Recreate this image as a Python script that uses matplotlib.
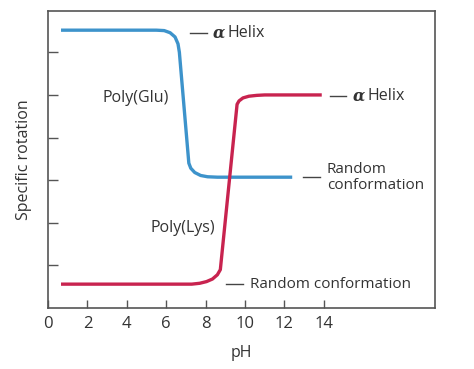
import matplotlib
matplotlib.use("Agg")
import matplotlib.pyplot as plt

plt.rcParams['font.family'] = ['Open Sans', 'DejaVu Sans']

# Poly(Glu) curve (pH, specific rotation units)
glu_ph = [0.66, 5.5, 5.9, 6.2, 6.45, 6.6, 6.67, 7.15, 7.25, 7.45, 7.75, 8.1, 8.6, 12.4]
glu_rot = [6.52, 6.52, 6.51, 6.46, 6.36, 6.2, 6.0, 3.4, 3.28, 3.18, 3.11, 3.08, 3.07, 3.07]

# Poly(Lys) curve
lys_ph = [0.66, 7.3, 7.7, 8.05, 8.35, 8.6, 8.75, 9.6, 9.7, 9.9, 10.2, 10.6, 11.0, 13.9]
lys_rot = [0.56, 0.56, 0.58, 0.62, 0.68, 0.78, 0.9, 4.78, 4.86, 4.93, 4.97, 4.99, 5.0, 5.0]

x_ticks = [0, 2, 4, 6, 8, 10, 12, 14]
y_ticks = [1, 2, 3, 4, 5, 6]

blue = '#3d93cb'
red = '#c8234f'
txt = '#333333'
spine = '#555555'
FS = 11.5
FS2 = 11

fig = plt.figure(figsize=(4.74, 3.69), dpi=100)
ax = fig.add_axes([0.1013, 0.1653, 0.8164, 0.8049])

ax.plot(glu_ph, glu_rot, color=blue, lw=2.4, solid_capstyle='butt', solid_joinstyle='round')
ax.plot(lys_ph, lys_rot, color=red, lw=2.4, solid_capstyle='butt', solid_joinstyle='round')

ax.set_xlim(0, 19.65)
ax.set_ylim(0, 6.97)
ax.set_xticks(x_ticks)
ax.set_xticklabels([str(v) for v in x_ticks], fontsize=12, color=txt)
ax.set_yticks(y_ticks)
ax.set_yticklabels([])
ax.tick_params(axis='x', direction='in', length=6, width=1, color=spine, pad=6)
ax.tick_params(axis='y', direction='in', length=7, width=1, color=spine)
for s in ax.spines.values():
    s.set_color(spine)
    s.set_linewidth(1.2)

ax.set_xlabel('pH', fontsize=FS, color=txt, labelpad=9)
ax.set_ylabel('Specific rotation', fontsize=FS, color=txt, labelpad=8)

def dash(x, y, w=0.85):
    ax.plot([x, x + w], [y, y], color='#444444', lw=1.0, clip_on=False)

def helix(x, y):
    dash(x, y)
    ax.text(x + 1.15, y, 'α', fontsize=11.5, color=txt, va='center', ha='left',
            family='DejaVu Serif', style='italic', weight='bold')
    ax.text(x + 1.9, y, 'Helix', fontsize=FS, color=txt, va='center', ha='left')

helix(7.2, 6.45)
helix(14.3, 4.98)

dash(12.95, 3.07)
ax.text(14.16, 3.07, 'Random\nconformation', fontsize=FS2, color=txt, va='center', ha='left', linespacing=1.1)

dash(9.04, 0.56)
ax.text(10.25, 0.56, 'Random conformation', fontsize=FS2, color=txt, va='center', ha='left')

ax.text(4.47, 4.93, 'Poly(Glu)', fontsize=FS, color=txt, va='center', ha='center')
ax.text(6.83, 1.88, 'Poly(Lys)', fontsize=FS, color=txt, va='center', ha='center')

fig.savefig('out.png', dpi=100)
